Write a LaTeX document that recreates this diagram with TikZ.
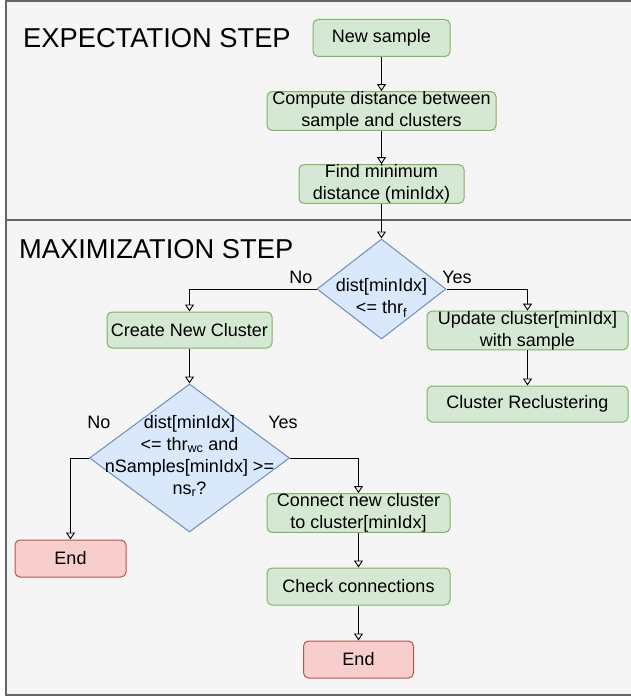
\documentclass[tikz,border=0pt]{standalone}
\usepackage{fontspec}
\setmainfont{Liberation Sans}
\usetikzlibrary{arrows.meta,shapes.geometric}
\definecolor{gfill}{HTML}{D5E8D4}\definecolor{gline}{HTML}{82B366}
\definecolor{bfill}{HTML}{DAE8FC}\definecolor{bline}{HTML}{6C8EBF}
\definecolor{rfill}{HTML}{F8CECC}\definecolor{rline}{HTML}{B85450}
\definecolor{panelfill}{HTML}{F5F5F5}\definecolor{panelline}{HTML}{666666}
\begin{document}
\begin{tikzpicture}[x=1pt,y=-1pt,
  box/.style={draw=gline, fill=gfill, rounded corners=5pt, line width=1pt, minimum height=37pt, align=center, inner sep=0pt, font=\fontsize{18}{22}\selectfont},
  endbox/.style={box, draw=rline, fill=rfill},
  decision/.style={diamond, draw=bline, fill=bfill, line width=1pt, inner sep=0pt},
  dtext/.style={align=center, font=\fontsize{18}{22}\selectfont, inner sep=0pt},
  lbl/.style={font=\fontsize{18}{20}\selectfont, inner sep=0pt},
  steptitle/.style={font=\fontsize{27.3}{30}\selectfont, anchor=base west, inner sep=0pt},
  arr/.style={-{Triangle[open,length=7pt,width=9pt]}, line width=0.9pt},
]
\useasboundingbox (0,0) rectangle (631,698);
% panels
\draw[panelline, fill=panelfill, line width=1.5pt] (6,1) rectangle (645,220);
\draw[panelline, fill=panelfill, line width=1.5pt] (6,220) rectangle (645,695);
\node[steptitle] (t1) at (23,48) {EXPECTATION STEP};
\node[steptitle] (t2) at (19,258) {MAXIMIZATION STEP};
% nodes
\node[box, minimum width=137pt] (ns) at (381.5,38) {New sample};
\node[box, minimum width=229pt] (cd) at (381.5,111) {Compute distance between\\sample and clusters};
\node[box, minimum width=165pt] (fm) at (381.5,184) {Find minimum\\distance (minIdx)};
\node[decision, minimum width=129pt, minimum height=100pt] (d1) at (381.5,289) {};
\node[dtext] (d1t) at (381.5,298) {dist[minIdx]\\<= thr\textsubscript{f}};
\node[box, minimum width=165pt, minimum height=36pt] (cn) at (189.5,330) {Create New Cluster};
\node[box, minimum width=201pt, minimum height=36pt] (uc) at (527.5,330.5) {Update cluster[minIdx]\\with sample};
\node[box, minimum width=201pt, minimum height=36pt] (cr) at (527.5,404) {Cluster Reclustering};
\node[decision, minimum width=200pt, minimum height=148pt] (d2) at (189.5,458) {};
\node[dtext] (d2t) at (189.5,456) {dist[minIdx]\\<= thr\textsubscript{wc} and\\nSamples[minIdx] >=\\ns\textsubscript{r}?};
\node[endbox, minimum width=111pt] (e1) at (70.5,558.5) {End};
\node[box, minimum width=183pt] (cc) at (358.5,513) {Connect new cluster\\to cluster[minIdx]};
\node[box, minimum width=183pt] (ck) at (358.5,586.5) {Check connections};
\node[endbox, minimum width=110pt] (e2) at (358.5,659.5) {End};
% labels
\node[lbl] (no1) at (301,277) {No};
\node[lbl] (yes1) at (457,277) {Yes};
\node[lbl] (no2) at (99,422) {No};
\node[lbl] (yes2) at (283,422) {Yes};
% connectors
\draw[arr] (ns) -- (cd);
\draw[arr] (cd) -- (fm);
\draw[arr] (fm.south) -- (d1.north);
\draw[arr] (d1.west) -| (cn.north);
\draw[arr] (d1.east) -| (uc.north);
\draw[arr] (uc) -- (cr);
\draw[arr] (cn.south) -- (d2.north);
\draw[arr] (d2.west) -| (e1.north);
\draw[arr] (d2.east) -| (cc.north);
\draw[arr] (cc) -- (ck);
\draw[arr] (ck) -- (e2);
\end{tikzpicture}
\end{document}
